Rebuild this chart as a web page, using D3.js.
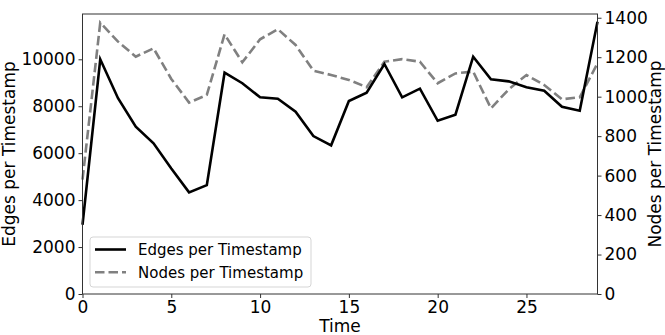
<!DOCTYPE html>
<html><head><meta charset="utf-8">
<script src="https://cdn.jsdelivr.net/npm/d3@7"></script>
<style>body{margin:0;background:#fff}svg{display:block}text{font-family:"DejaVu Sans",sans-serif;fill:#000}</style>
</head><body><svg id="c" width="665" height="335"></svg>
<script>
const times = d3.range(0, 30);
const edges = [2950,10000,8340,7130,6420,5350,4330,4640,9430,8980,8380,8320,7770,6730,6335,8220,8580,9800,8380,8750,7380,7640,10110,9150,9060,8810,8660,7980,7810,11600];
const nodes = [580,1375,1279,1203,1245,1090,970,1009,1316,1174,1291,1342,1262,1132,1110,1085,1048,1177,1190,1177,1068,1118,1127,941,1037,1110,1059,987,997,1169];
const xTicks = [0,5,10,15,20,25];
const leftTicks = [0,2000,4000,6000,8000,10000];
const rightTicks = [0,200,400,600,800,1000,1200,1400];
const seriesNames = ["Edges per Timestamp","Nodes per Timestamp"];

const svg = d3.select("#c");
const L = 82.5, R = 597.5, T = 14, B = 294;
const x = d3.scaleLinear().domain([0,29]).range([L,R]);
const yL = d3.scaleLinear().domain([0,11930]).range([B,T]);
const yR = d3.scaleLinear().domain([0,1419]).range([B,T]);

const fs = 17;
// lines
svg.append("path").datum(nodes).attr("fill","none").attr("stroke","#808080").attr("stroke-width",2.6)
  .attr("stroke-dasharray","9.5,4").attr("d", d3.line().x((d,i)=>x(times[i])).y(d=>yR(d)));
svg.append("path").datum(edges).attr("fill","none").attr("stroke","#000").attr("stroke-width",2.6)
  .attr("stroke-linejoin","miter").attr("d", d3.line().x((d,i)=>x(times[i])).y(d=>yL(d)));

// frame
svg.append("rect").attr("x",L).attr("y",T).attr("width",R-L).attr("height",B-T).attr("fill","none").attr("stroke","#333").attr("stroke-width",1);

const gx = svg.append("g").attr("transform",`translate(0,${B})`).call(d3.axisBottom(x).tickValues(xTicks).tickSize(4).tickPadding(3));
const gl = svg.append("g").attr("transform",`translate(${L},0)`).call(d3.axisLeft(yL).tickValues(leftTicks).tickSize(4).tickPadding(3).tickFormat(d3.format("d")));
const gr = svg.append("g").attr("transform",`translate(${R},0)`).call(d3.axisRight(yR).tickValues(rightTicks).tickSize(4).tickPadding(3).tickFormat(d3.format("d")));
[gx,gl,gr].forEach(g=>{g.select(".domain").remove();g.selectAll("line").attr("stroke","#333");g.selectAll("text").attr("font-size",fs).attr("font-family","DejaVu Sans").attr("fill","#000");});

svg.append("text").attr("x",(L+R)/2).attr("y",332).attr("text-anchor","middle").attr("font-size",fs).text("Time");
svg.append("text").attr("transform",`translate(15,${(T+B)/2}) rotate(-90)`).attr("text-anchor","middle").attr("font-size",fs).text("Edges per Timestamp");
svg.append("text").attr("transform",`translate(661,${(T+B)/2}) rotate(-90)`).attr("text-anchor","middle").attr("font-size",fs).text("Nodes per Timestamp");

// legend
const lg = svg.append("g").attr("transform","translate(90,237)");
lg.append("rect").attr("width",221).attr("height",50).attr("rx",3).attr("fill","#fff").attr("fill-opacity",0.8).attr("stroke","#d5d5d5").attr("stroke-width",1);
seriesNames.forEach((n,i)=>{
  const yy = 12.5 + i*22.7;
  lg.append("line").attr("x1",5).attr("x2",36).attr("y1",yy).attr("y2",yy)
    .attr("stroke", i? "#808080":"#000").attr("stroke-width",2.6).attr("stroke-dasharray", i? "9.5,4":null);
  lg.append("text").attr("x",48).attr("y",yy+5.5).attr("font-size",15).text(n);
});
</script></body></html>
